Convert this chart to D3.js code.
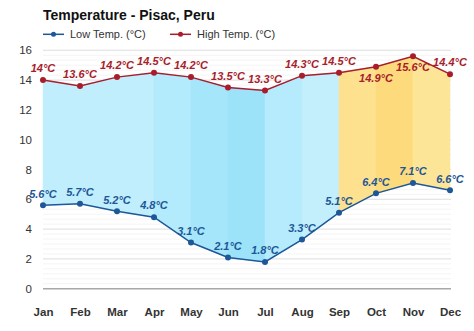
<!DOCTYPE html>
<html>
<head>
<meta charset="utf-8">
<script src="https://cdn.jsdelivr.net/npm/d3@7"></script>
<style>
  html, body { margin: 0; padding: 0; background: #fff; }
  svg { display: block; font-family: "Liberation Sans", Arial, sans-serif; }
</style>
</head>
<body>
<svg id="chart" width="474" height="331"></svg>
<script>
// Monthly temperatures for Pisac, Peru
const months = ["Jan", "Feb", "Mar", "Apr", "May", "Jun", "Jul", "Aug", "Sep", "Oct", "Nov", "Dec"];
const lowTemps = [5.6, 5.7, 5.2, 4.8, 3.1, 2.1, 1.8, 3.3, 5.1, 6.4, 7.1, 6.6];
const highTemps = [14, 13.6, 14.2, 14.5, 14.2, 13.5, 13.3, 14.3, 14.5, 14.9, 15.6, 14.4];
const yTicks = [0, 2, 4, 6, 8, 10, 12, 14, 16];

// Fill colour of the band between each pair of consecutive months
const bandColors = ["#c1eefd", "#c1eefd", "#c1eefd", "#b3eafc", "#a6e6fa", "#9ce3f9",
                    "#b5ebfc", "#c3effd", "#fde18e", "#fddb7d", "#fde598"];
// Which side of the point each high-temperature label sits on
const highLabelSide = ["above", "above", "above", "above", "above", "above",
                       "above", "above", "above", "below", "below", "above"];

const svg = d3.select("#chart");
const x = d3.scalePoint().domain(months).range([43, 450]);
const y = d3.scaleLinear().domain([0, 16]).range([288.7, 50.3]);

const highColor = "#a81d2c";
const lowColor = "#1d5797";

// Faint minor grid
const minor = d3.range(0, 16.01, 1 / 3);
svg.append("g").selectAll("line").data(minor).join("line")
  .attr("x1", 43).attr("x2", 451)
  .attr("y1", d => y(d)).attr("y2", d => y(d))
  .attr("stroke", "#f4f4f4").attr("stroke-width", 1);

// Major grid
svg.append("g").selectAll("line").data(yTicks).join("line")
  .attr("x1", 43).attr("x2", 451)
  .attr("y1", d => y(d)).attr("y2", d => y(d))
  .attr("stroke", d => d === 0 ? "#a8a8a8" : "#e2e2e2")
  .attr("stroke-width", d => d === 0 ? 1.5 : 1);

// Bands between low and high lines
const bands = d3.range(months.length - 1).map(i => ({ i, color: bandColors[i] }));
svg.append("g").selectAll("path").data(bands).join("path")
  .attr("d", d => {
    const a = d.i, b = d.i + 1;
    return `M${x(months[a])},${y(highTemps[a])}L${x(months[b])},${y(highTemps[b])}` +
           `L${x(months[b])},${y(lowTemps[b])}L${x(months[a])},${y(lowTemps[a])}Z`;
  })
  .attr("fill", d => d.color)
  .attr("stroke", d => d.color)
  .attr("stroke-width", 0.5);

// Lines
const line = arr => d3.line().x((d, i) => x(months[i])).y(d => y(d))(arr);
svg.append("path").attr("d", line(highTemps)).attr("fill", "none")
  .attr("stroke", highColor).attr("stroke-width", 1.5);
svg.append("path").attr("d", line(lowTemps)).attr("fill", "none")
  .attr("stroke", lowColor).attr("stroke-width", 1.5);

// Points
svg.append("g").selectAll("circle").data(highTemps).join("circle")
  .attr("cx", (d, i) => x(months[i])).attr("cy", d => y(d)).attr("r", 3)
  .attr("fill", highColor);
svg.append("g").selectAll("circle").data(lowTemps).join("circle")
  .attr("cx", (d, i) => x(months[i])).attr("cy", d => y(d)).attr("r", 3)
  .attr("fill", lowColor);

// Value labels
const fmt = v => `${v}°C`;
svg.append("g").selectAll("text").data(highTemps).join("text")
  .attr("x", (d, i) => x(months[i]))
  .attr("y", (d, i) => highLabelSide[i] === "above" ? y(d) - 7.7 : y(d) + 15)
  .attr("text-anchor", "middle")
  .attr("font-size", 11).attr("font-weight", "bold").attr("font-style", "italic")
  .attr("fill", highColor)
  .text(fmt);
svg.append("g").selectAll("text").data(lowTemps).join("text")
  .attr("x", (d, i) => x(months[i]))
  .attr("y", d => y(d) - 7.7)
  .attr("text-anchor", "middle")
  .attr("font-size", 11).attr("font-weight", "bold").attr("font-style", "italic")
  .attr("fill", lowColor)
  .text(fmt);

// Y axis labels
const yAxis = svg.append("g").attr("transform", "translate(32,0)")
  .call(d3.axisLeft(y).tickValues(yTicks).tickSize(0).tickPadding(0));
yAxis.select(".domain").remove();
yAxis.selectAll("text").attr("font-size", 11.5).attr("fill", "#333")
  .attr("font-family", "Liberation Sans, Arial, sans-serif");

// X axis labels
const xAxis = svg.append("g").attr("transform", "translate(0,308)")
  .call(d3.axisBottom(x).tickSize(0).tickPadding(0));
xAxis.select(".domain").remove();
xAxis.selectAll("text").attr("font-size", 11.5).attr("font-weight", "bold").attr("fill", "#333")
  .attr("font-family", "Liberation Sans, Arial, sans-serif");

// Title
svg.append("text").attr("x", 43).attr("y", 20)
  .attr("font-size", 14).attr("font-weight", "bold").attr("fill", "#111")
  .text("Temperature - Pisac, Peru");

// Legend
const legend = [
  { label: "Low Temp. (°C)", color: lowColor, x0: 43 },
  { label: "High Temp. (°C)", color: highColor, x0: 170 }
];
const lg = svg.append("g").selectAll("g").data(legend).join("g")
  .attr("transform", d => `translate(${d.x0},34.3)`);
lg.append("line").attr("x1", 0).attr("x2", 21).attr("stroke", d => d.color).attr("stroke-width", 1.5);
lg.append("circle").attr("cx", 10.5).attr("r", 2.5).attr("fill", d => d.color);
lg.append("text").attr("x", 27).attr("y", 4).attr("font-size", 11).attr("fill", "#333")
  .text(d => d.label);
</script>
</body>
</html>
